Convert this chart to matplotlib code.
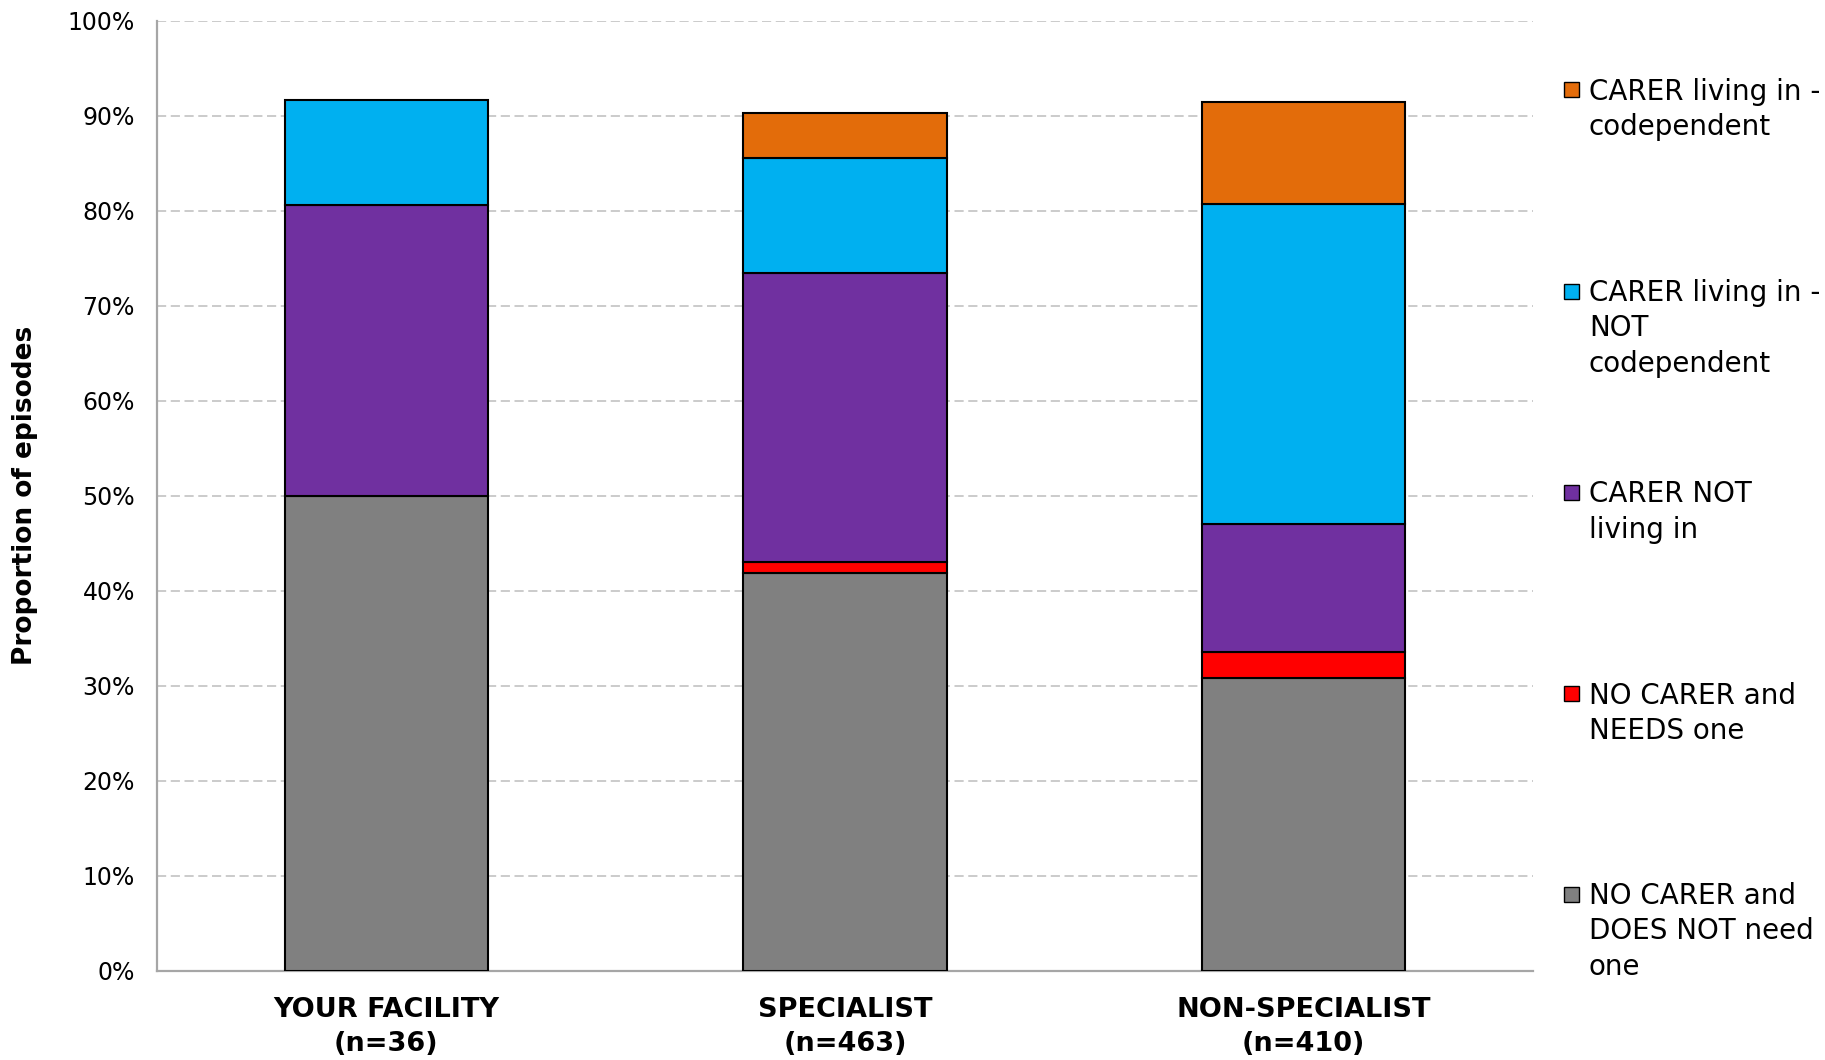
import matplotlib
matplotlib.use("Agg")
import matplotlib.pyplot as plt
from matplotlib.patches import Rectangle
import numpy as np

categories = ["YOUR FACILITY\n(n=36)", "SPECIALIST\n(n=463)", "NON-SPECIALIST\n(n=410)"]
# stacked from bottom to top (percent of episodes)
no_carer_not_need = [50.0, 41.9, 30.8]
no_carer_needs = [0.0, 1.1, 2.8]
carer_not_living_in = [30.6, 30.4, 13.4]
carer_living_not_codep = [11.1, 12.1, 33.7]
carer_living_codep = [0.0, 4.8, 10.7]

series = [no_carer_not_need, no_carer_needs, carer_not_living_in,
          carer_living_not_codep, carer_living_codep]
series_labels = ["NO CARER and\nDOES NOT need\none", "NO CARER and\nNEEDS one",
                 "CARER NOT\nliving in", "CARER living in -\nNOT\ncodependent",
                 "CARER living in -\ncodependent"]
colors = ["#808080", "#FF0000", "#7030A0", "#00B0F0", "#E36C0A"]
yticks = [0, 10, 20, 30, 40, 50, 60, 70, 80, 90, 100]
ytick_labels = [f"{v}%" for v in yticks]

W, H = 1825, 1060
fig = plt.figure(figsize=(W / 100, H / 100), dpi=100)
ax = fig.add_axes([157 / W, 89.3 / H, (1533 - 157) / W, 950 / H])

x = np.arange(len(categories))
bottom = np.zeros(len(categories))
for vals, col in zip(series, colors):
    vals = np.array(vals, dtype=float)
    mask = vals > 0
    ax.bar(x[mask], vals[mask], bottom=bottom[mask], width=0.443, color=col,
           edgecolor="black", linewidth=1.5, zorder=3)
    bottom += vals

ax.set_xlim(-0.5, 2.5)
ax.set_ylim(0, 100)
ax.set_yticks(yticks)
ax.set_yticklabels(ytick_labels, fontsize=17, family="DejaVu Sans")
ax.set_xticks(x)
ax.set_xticklabels(categories, fontsize=19.5, fontweight="bold", linespacing=1.38)
ax.tick_params(axis="y", length=0, pad=16)
ax.tick_params(axis="x", length=0, pad=19)
ax.yaxis.grid(True, color="#bdbdbd", linestyle=(0, (6, 3)), linewidth=1.1, zorder=0)
ax.set_axisbelow(True)
for s in ["top", "right"]:
    ax.spines[s].set_visible(False)
for s in ["left", "bottom"]:
    ax.spines[s].set_color("#a6a6a6")
    ax.spines[s].set_linewidth(1.6)
ax.set_ylabel("Proportion of episodes", fontsize=19, fontweight="bold")
ax.yaxis.set_label_coords(-(157 - 38) / (1533 - 157), 0.5)

# legend (manual, evenly spaced like the reference), top entry = last series
entry_y = [89.6, 291.0, 492.4, 693.8, 894.0]
for i, (lab, col) in enumerate(zip(series_labels[::-1], colors[::-1])):
    yc = entry_y[i]
    sq = 15
    fig.patches.append(Rectangle(((1571 - sq / 2) / W, 1 - (yc + sq / 2) / H), sq / W, sq / H,
                                 transform=fig.transFigure, facecolor=col,
                                 edgecolor="black", linewidth=1.0))
    fig.text(1589 / W, 1 - (yc - 12) / H, lab, fontsize=20, va="top", ha="left",
             linespacing=1.33, family="DejaVu Sans")

fig.savefig("out.png", dpi=100)
